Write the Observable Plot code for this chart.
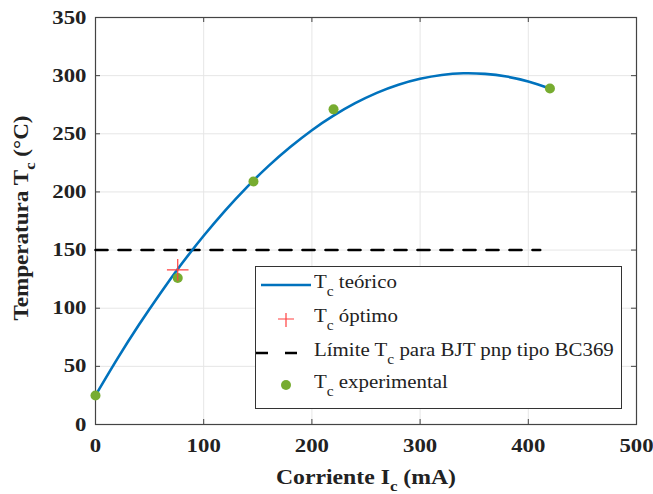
<!DOCTYPE html>
<html>
<head>
<meta charset="utf-8">
<script src="https://cdn.jsdelivr.net/npm/d3@7"></script>
<script src="https://cdn.jsdelivr.net/npm/@observablehq/plot@0.6"></script>
<style>
  html, body { margin: 0; padding: 0; background: #fff; }
  #wrap { position: relative; width: 653px; height: 494px; font-family: 'Liberation Serif', 'DejaVu Serif', serif; }
  #legend { position: absolute; left: 255px; top: 266px; width: 367px; height: 143px; border: 1px solid #333; background: #fff; box-sizing: border-box; font-family: 'Liberation Serif', serif; font-size: 19px; color: #222; }
  .row { position: absolute; left: 0; height: 30px; display: flex; align-items: center; }
  .sw { width: 58px; height: 30px; flex: none; }
  .lab { display: inline-block; white-space: nowrap; transform: scaleX(1.1); transform-origin: left center; font-family: 'Liberation Serif', serif; }
  .lab sub { font-size: 14px; vertical-align: -8px; }
</style>
</head>
<body>
<div id="wrap"></div>
<script>
// ---- data ----
const curveI = [0, 20, 40, 60, 80, 100, 120, 140, 160, 180, 200, 220, 240, 260, 280, 300, 320, 340, 360, 380, 400, 420];
const curveT = [25, 56.2, 85.5, 112.9, 138.6, 162.3, 184.2, 204.2, 222.4, 238.6, 253.1, 265.6, 276.3, 285.2, 292.2, 297.3, 300.6, 302, 301.5, 299.2, 295, 288.9];
const expI = [0, 76, 146, 220, 420];
const expT = [25, 126, 209, 271, 289];
const optI = [76];
const optT = [133];
const limitI = [0, 411];
const limitT = [150, 150];
const xTicks = [0, 100, 200, 300, 400, 500];
const yTicks = [0, 50, 100, 150, 200, 250, 300, 350];

const curve = curveI.map((x, i) => ({x, y: curveT[i]}));
const exp = expI.map((x, i) => ({x, y: expT[i]}));
const opt = optI.map((x, i) => ({x, y: optT[i]}));
const lim = limitI.map((x, i) => ({x, y: limitT[i]}));

const W = 653, H = 494, mL = 95, mR = 17, mT = 17, mB = 70;
const pw = W - mL - mR, ph = H - mT - mB;
const tk = 5;
const FF = "'Liberation Serif', serif";

const chart = Plot.plot({
  width: W, height: H,
  marginLeft: mL, marginRight: mR, marginTop: mT, marginBottom: mB,
  style: { fontFamily: FF, background: "#fff" },
  x: { domain: [0, 500], label: null },
  y: { domain: [0, 350], label: null },
  marks: [
    Plot.gridX(xTicks, { stroke: "#e6e6e6", strokeOpacity: 1 }),
    Plot.gridY(yTicks, { stroke: "#e6e6e6", strokeOpacity: 1 }),
    Plot.ruleX(xTicks, { stroke: "#444", insetTop: ph - tk }),
    Plot.ruleX(xTicks, { stroke: "#444", insetBottom: ph - tk }),
    Plot.ruleY(yTicks, { stroke: "#444", insetRight: pw - tk }),
    Plot.ruleY(yTicks, { stroke: "#444", insetLeft: pw - tk }),
    Plot.frame({ stroke: "#444", strokeWidth: 1.2 }),
    Plot.axisX(xTicks, { tickSize: 0, tickPadding: 14, fontSize: 19, fontWeight: "bold", fill: "#222", fontFamily: FF }),
    Plot.axisY(yTicks, { tickSize: 0, tickPadding: 9, fontSize: 19, fontWeight: "bold", fill: "#222", fontFamily: FF }),
    Plot.line(lim, { x: "x", y: "y", stroke: "#000", strokeWidth: 2.6, strokeDasharray: "12,11" }),
    Plot.line(curve, { x: "x", y: "y", stroke: "#0072BD", strokeWidth: 2.6, curve: "natural" }),
    Plot.dot(exp, { x: "x", y: "y", r: 5, fill: "#77AC30", stroke: "none" }),
    Plot.dot(opt, { x: "x", y: "y", symbol: "plus", r: 7, stroke: "#FF4040", strokeWidth: 1.2 })
  ]
});

const wrap = document.getElementById("wrap");
wrap.appendChild(chart);

const svg = d3.select(chart);
// stretch tick labels horizontally (reference font is wide)
svg.selectAll('g[aria-label$="tick label"] text').each(function () {
  const t = d3.select(this);
  const tr = t.attr("transform") || "";
  t.attr("transform", tr + " scale(1.2,1)");
});

// axis titles with subscripts
const xt = svg.append("text")
  .attr("transform", `translate(366,${H - 10}) scale(1.13,1)`)
  .attr("text-anchor", "middle")
  .attr("font-family", FF).attr("font-size", 21).attr("font-weight", "bold").attr("fill", "#222");
xt.append("tspan").text("Corriente I");
xt.append("tspan").attr("font-size", 15).attr("dy", 7).text("c");
xt.append("tspan").attr("dy", -7).text(" (mA)");

const yt = svg.append("text")
  .attr("transform", `translate(28,${mT + 201}) rotate(-90) scale(1.1,1)`)
  .attr("text-anchor", "middle")
  .attr("font-family", FF).attr("font-size", 21).attr("font-weight", "bold").attr("fill", "#222");
yt.append("tspan").text("Temperatura T");
yt.append("tspan").attr("font-size", 15).attr("dy", 7).text("c");
yt.append("tspan").attr("dy", -7).text(" (°C)");

// legend
const legend = document.createElement("div");
legend.id = "legend";
const rows = [
  { top: 3, sw: '<svg class="sw" width="58" height="30"><line x1="5" x2="55" y1="15" y2="15" stroke="#0072BD" stroke-width="2.6"/></svg>', lab: 'T<sub>c</sub> teórico' },
  { top: 37, sw: '<svg class="sw" width="58" height="30"><path d="M30,9V23M22,15H38" stroke="#FF4040" stroke-width="1.2"/></svg>', lab: 'T<sub>c</sub> óptimo' },
  { top: 71, sw: '<svg class="sw" width="58" height="30"><line x1="0" x2="55" y1="15" y2="15" stroke="#000" stroke-width="2.6" stroke-dasharray="12,17"/></svg>', lab: 'Límite T<sub>c</sub> para BJT pnp tipo BC369' },
  { top: 103, sw: '<svg class="sw" width="58" height="30"><circle cx="30" cy="15" r="5" fill="#77AC30"/></svg>', lab: 'T<sub>c</sub> experimental' }
];
for (const r of rows) {
  const d = document.createElement("div");
  d.className = "row";
  d.style.top = r.top + "px";
  d.innerHTML = r.sw + '<span class="lab">' + r.lab + '</span>';
  legend.appendChild(d);
}
wrap.appendChild(legend);
</script>
</body>
</html>
